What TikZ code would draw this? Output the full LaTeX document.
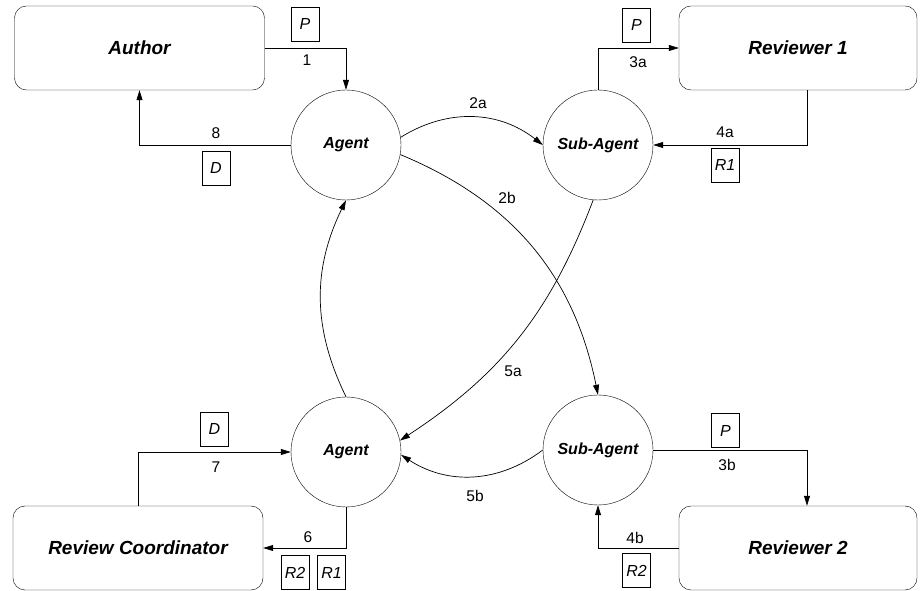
\documentclass[tikz,border=0pt]{standalone}
\usepackage{fontspec}
\setmainfont{Liberation Sans}
\usetikzlibrary{arrows.meta}

\begin{document}
\begin{tikzpicture}[x=1pt,y=1pt,
  actor/.style={draw,rounded corners=12pt,minimum width=250pt,minimum height=84pt,
    font=\fontsize{19}{22}\selectfont\bfseries\itshape},
  agt/.style={draw,circle,minimum size=110pt,inner sep=0pt,
    font=\fontsize{16}{19}\selectfont\bfseries\itshape},
  tok/.style={draw,minimum width=28pt,minimum height=34pt,inner sep=0pt,
    font=\fontsize{16}{19}\selectfont\itshape},
  num/.style={inner sep=1pt,font=\fontsize{15.5}{18}\selectfont},
  flow/.style={-{Triangle[length=10pt,width=6pt]},line width=0.7pt}]
\useasboundingbox (0,0) rectangle (920,591);
% ---- UCZESTNICY ----
\node[actor] (author) at (139.5,543) {Author};
\node[actor,minimum width=238pt] (rev1) at (798,543) {Reviewer 1};
\node[actor] (coord) at (138,43) {Review Coordinator};
\node[actor,minimum width=238pt] (rev2) at (798,43) {Reviewer 2};
\node[agt] (agentA) at (346,446) {Agent};
\node[agt] (subA) at (598,446) {Sub-Agent};
\node[agt] (agentB) at (346,139) {Agent};
\node[agt] (subB) at (598,141) {Sub-Agent};
% ---- PRZEPLYWY PROSTOKATNE ----
\draw[flow] (author.east) -| (agentA.north);
\draw[flow] (agentA.west) -| (author.south);
\draw[flow] (subA.north) |- (rev1.west);
\draw[flow] ([xshift=9pt]rev1.south) |- (subA.east);
\draw[flow] (coord.north) |- (agentB.west);
\draw[flow] (agentB.south) |- (coord.east);
\draw[flow] (subB.east) -| ([xshift=9pt]rev2.north);
\draw[flow] (rev2.west) -| (subB.south);
% ---- PRZEPLYWY LUKOWE ----
\draw[flow] (agentA.8) to[bend left=35] (subA.west);
\draw[flow] (agentA.-10) to[bend left=28] (subB.north);
\draw[flow] (subA.-95) to[bend left=18] (agentB.12);
\draw[flow] (subB.west) to[bend left=35] (agentB.-3);
\draw[flow] (agentB.north) to[bend left=26] (agentA.south);
% ---- DOKUMENTY ----
\node[tok] (p1) at (305,567) {P};
\node[tok] (d8) at (216,422.5) {D};
\node[tok] (p3a) at (636.5,565.5) {P};
\node[tok] (r4a) at (725,426) {R1};
\node[tok] (d7) at (214.5,162) {D};
\node[tok] (r6b) at (295,18.5) {R2};
\node[tok] (r6a) at (331.5,18.5) {R1};
\node[tok] (p3b) at (725.5,160.5) {P};
\node[tok] (r4b) at (636.5,20.5) {R2};
% ---- NUMERY ----
\node[num] (n1) at (307,531) {1};
\node[num] (n8) at (216,458) {8};
\node[num] (n3a) at (638,529) {3a};
\node[num] (n4a) at (725,459) {4a};
\node[num] (n7) at (216,124) {7};
\node[num] (n6) at (308,54) {6};
\node[num] (n3b) at (727,126) {3b};
\node[num] (n4b) at (635,53) {4b};
\node[num] (n2a) at (478,488) {2a};
\node[num] (n2b) at (507,393) {2b};
\node[num] (n5a) at (513,220) {5a};
\node[num] (n5b) at (475,95) {5b};
\end{tikzpicture}
\end{document}
